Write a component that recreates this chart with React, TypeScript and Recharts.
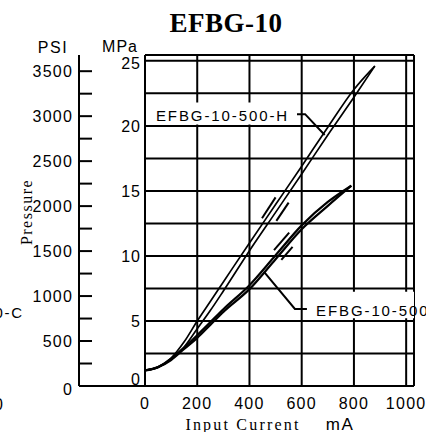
import React from 'react';
import { LineChart, Line, XAxis, YAxis, CartesianGrid, ReferenceArea } from 'recharts';

// ---- axis ticks ----
const currentTicks = [0, 200, 400, 600, 800, 1000];
const mpaTicks = [0, 2.5, 5, 7.5, 10, 12.5, 15, 17.5, 20, 22.5, 25];
const psiTicks = [0, 250, 500, 750, 1000, 1250, 1500, 1750, 2000, 2250, 2500, 2750, 3000, 3250, 3500];

// ---- EFBG-10-500-H (upper curve, rising / falling) ----
const hCurrent = [0, 50, 100, 150, 200, 250, 300, 400, 500, 600, 700, 800, 880];
const hRising = [1.2, 1.45, 2.05, 3.0, 4.4, 5.8, 7.3, 10.4, 13.35, 16.3, 19.3, 22.2, 24.6];
const hFalling = [1.2, 1.45, 2.15, 3.4, 5.0, 6.5, 8.0, 11.0, 13.95, 16.9, 19.9, 22.8, 24.6];

// ---- EFBG-10-500 (lower curve, rising / falling) ----
const sCurrent = [0, 50, 100, 150, 200, 250, 300, 400, 500, 600, 700, 790];
const sRising = [1.2, 1.45, 2.0, 2.85, 3.7, 4.7, 5.7, 7.45, 9.75, 12.05, 13.85, 15.4];
const sFalling = [1.2, 1.45, 2.1, 2.95, 3.9, 4.9, 5.9, 7.75, 10.05, 12.35, 14.15, 15.4];

// ---- short tolerance dashes ----
const hDashLeftCurrent = [448, 500];
const hDashLeftPressure = [12.9, 14.5];
const hDashRightCurrent = [503, 550];
const hDashRightPressure = [12.7, 14.1];
const sDashLeftCurrent = [494, 552];
const sDashLeftPressure = [10.45, 11.8];
const sDashRightCurrent = [522, 565];
const sDashRightPressure = [9.7, 10.7];

// ---- label leaders ----
const hLeaderCurrent = [582, 613, 688];
const hLeaderPressure = [20.9, 20.9, 19.3];
const sLeaderCurrent = [455, 574, 620];
const sLeaderPressure = [8.8, 5.92, 5.92];

// PSI scale range (drives the left PSI axis)
const psiRangeCurrent = [0, 0];
const psiRangeValue = [0, 3500];

const labelH = 'EFBG-10-500-H';
const labelS = 'EFBG-10-500';

const pts = (xs: number[], ys: number[]) => xs.map((x, i) => ({ current: x, pressure: ys[i] }));

const SANS = '"Liberation Sans", Arial, sans-serif';
const SERIF = '"Liberation Serif", "Times New Roman", serif';

const XTick = (props: any) => {
  const { x, y, payload } = props;
  return (
    <text x={x} y={y + 23} textAnchor="middle" fontFamily={SANS} fontSize={16} letterSpacing={1.3} fill="#000">
      {payload.value}
    </text>
  );
};

const MpaTick = (props: any) => {
  const { x, y, payload } = props;
  const v = payload.value;
  if (v % 5 !== 0) return <g />;
  const shift = v === 0 ? -7 : v === 25 ? 2 : 0;
  return (
    <text x={x - 4} y={y + shift} dy="0.36em" textAnchor="end" fontFamily={SANS} fontSize={16} letterSpacing={1} fill="#000">
      {v}
    </text>
  );
};

const PsiTick = (props: any) => {
  const { x, y, payload } = props;
  const v = payload.value;
  return (
    <g>
      <line x1={x} x2={x + (v === 0 ? 66 : 13)} y1={y} y2={y} stroke="#000" strokeWidth={2} />
      {v % 500 === 0 ? (
        <text x={x - 6} y={y + (v === 0 ? 3 : 0)} dy="0.36em" textAnchor="end" fontFamily={SANS} fontSize={16} letterSpacing={1.2} fill="#000">
          {v}
        </text>
      ) : null}
    </g>
  );
};

const boxLabel = (text: string, lift: number) => (props: any) => {
  const vb = props.viewBox || {};
  return (
    <text x={vb.x + 6} y={vb.y + vb.height - lift} fontFamily={SANS} fontSize={15} letterSpacing={1.9} fill="#000">
      {text}
    </text>
  );
};

const lineCommon = {
  yAxisId: 'mpa',
  dataKey: 'pressure',
  dot: false,
  stroke: '#000',
  isAnimationActive: false,
  activeDot: false,
} as any;

export default function App() {
  return (
    <div style={{ position: 'absolute', left: 0, top: 0, width: 426, height: 432, background: '#fff' }}>
      <LineChart width={426} height={432} margin={{ top: 55, right: 12, bottom: 0, left: 8 }}>
        <XAxis
          dataKey="current"
          type="number"
          domain={[0, 1030]}
          ticks={currentTicks}
          interval={0}
          height={46}
          tickSize={0}
          tickMargin={0}
          tickLine={false}
          axisLine={{ stroke: '#000', strokeWidth: 2 }}
          tick={<XTick />}
        />
        <YAxis
          yAxisId="mpa"
          type="number"
          domain={[0, 25.45]}
          ticks={mpaTicks}
          interval={0}
          width={66}
          tickSize={0}
          tickMargin={0}
          tickLine={false}
          axisLine={{ stroke: '#000', strokeWidth: 2 }}
          tick={<MpaTick />}
        />
        <YAxis
          yAxisId="psi"
          type="number"
          domain={[0, 3680]}
          allowDataOverflow
          ticks={psiTicks}
          interval={0}
          width={71}
          tickSize={0}
          tickMargin={0}
          tickLine={false}
          axisLine={{ stroke: '#000', strokeWidth: 2 }}
          tick={<PsiTick />}
        />
        <CartesianGrid yAxisId="mpa" stroke="#000" strokeWidth={2} />
        <ReferenceArea
          yAxisId="mpa"
          x1={19}
          x2={563}
          y1={20.1}
          y2={21.8}
          fill="#fff"
          fillOpacity={1}
          stroke="none"
          label={boxLabel(labelH, 4)}
        />
        <ReferenceArea
          yAxisId="mpa"
          x1={632}
          x2={1030}
          y1={5.2}
          y2={7.25}
          fill="#fff"
          fillOpacity={1}
          stroke="none"
          label={boxLabel(labelS, 2)}
        />
        <Line
          yAxisId="psi"
          dataKey="pressure"
          data={pts(psiRangeCurrent, psiRangeValue)}
          stroke="none"
          strokeWidth={0}
          dot={false}
          activeDot={false}
          isAnimationActive={false}
        />
        <Line {...lineCommon} data={pts(sCurrent, sRising)} type="monotone" strokeWidth={2.2} />
        <Line {...lineCommon} data={pts(sCurrent, sFalling)} type="monotone" strokeWidth={2.2} />
        <Line {...lineCommon} data={pts(hCurrent, hRising)} type="monotone" strokeWidth={1.7} />
        <Line {...lineCommon} data={pts(hCurrent, hFalling)} type="monotone" strokeWidth={1.7} />
        <Line {...lineCommon} data={pts(hDashLeftCurrent, hDashLeftPressure)} type="linear" strokeWidth={2} />
        <Line {...lineCommon} data={pts(hDashRightCurrent, hDashRightPressure)} type="linear" strokeWidth={2} />
        <Line {...lineCommon} data={pts(sDashLeftCurrent, sDashLeftPressure)} type="linear" strokeWidth={2} />
        <Line {...lineCommon} data={pts(sDashRightCurrent, sDashRightPressure)} type="linear" strokeWidth={2} />
        <Line {...lineCommon} data={pts(hLeaderCurrent, hLeaderPressure)} type="linear" strokeWidth={2} />
        <Line {...lineCommon} data={pts(sLeaderCurrent, sLeaderPressure)} type="linear" strokeWidth={2} />
      </LineChart>
      <svg width={426} height={432} style={{ position: 'absolute', left: 0, top: 0, pointerEvents: 'none' }}>
        <text x={226} y={32} textAnchor="middle" fontFamily={SERIF} fontWeight="bold" fontSize={27} letterSpacing={0.5} fill="#000">
          EFBG-10
        </text>
        <text x={53} y={53} textAnchor="middle" fontFamily={SANS} fontSize={16} letterSpacing={1.5} fill="#000">PSI</text>
        <text x={120} y={52} textAnchor="middle" fontFamily={SANS} fontSize={16} letterSpacing={1} fill="#000">MPa</text>
        <text x={32} y={212} transform="rotate(-90 32 212)" textAnchor="middle" fontFamily={SERIF} fontSize={16} letterSpacing={1.5} fill="#000">
          Pressure
        </text>
        <text x={243} y={430} textAnchor="middle" fontFamily={SERIF} fontSize={16} letterSpacing={2.2} fill="#000">
          Input Current
        </text>
        <text x={340} y={430} textAnchor="middle" fontFamily={SANS} fontSize={17} letterSpacing={1.5} fill="#000">mA</text>
        <text x={24} y={318} textAnchor="end" fontFamily={SANS} fontSize={15} letterSpacing={1.8} fill="#000">EFBG-10-500-C</text>
        <text x={4} y={410} textAnchor="end" fontFamily={SANS} fontSize={16} letterSpacing={1} fill="#000">1000</text>
      </svg>
    </div>
  );
}
